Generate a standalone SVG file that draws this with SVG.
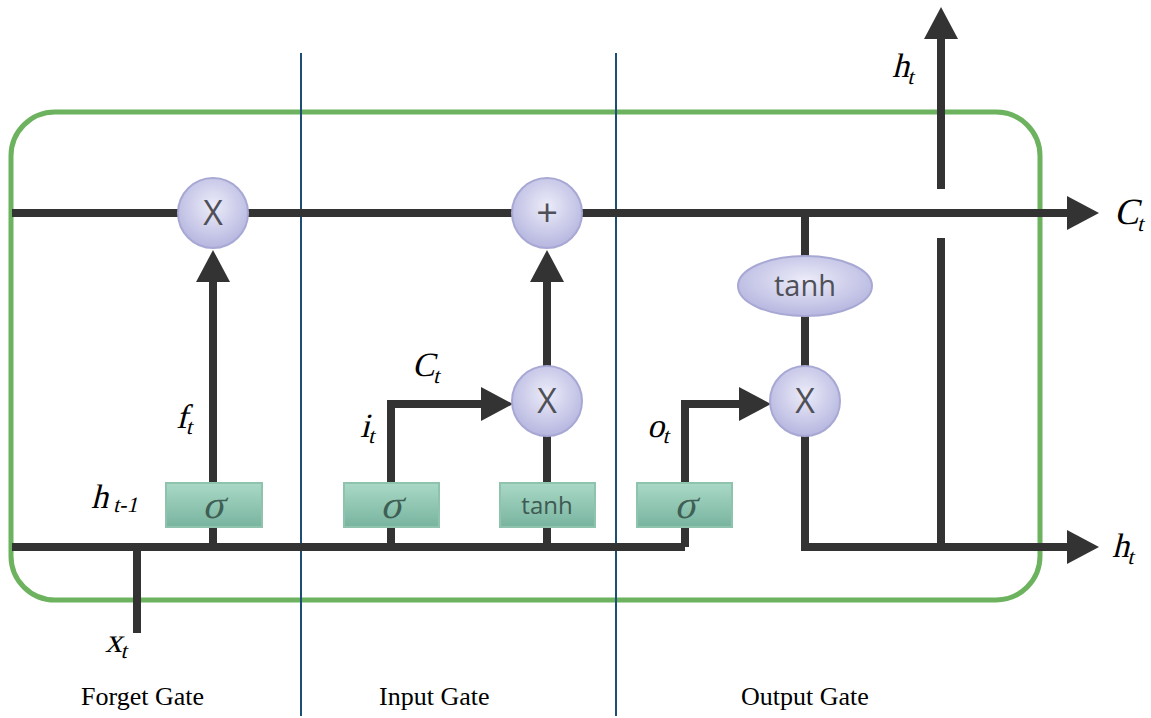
<svg xmlns="http://www.w3.org/2000/svg" width="1151" height="718" viewBox="0 0 1151 718">
<defs>
<radialGradient id="gCirc" cx="50%" cy="40%" r="60%">
<stop offset="0" stop-color="#ececf9"/>
<stop offset="1" stop-color="#b6b6e0"/>
</radialGradient>
<linearGradient id="gBox" x1="0" y1="0" x2="0" y2="1">
<stop offset="0" stop-color="#a9d9c7"/>
<stop offset="1" stop-color="#78b49f"/>
</linearGradient>
<marker id="arr" viewBox="0 0 32 34" refX="1" refY="17" markerWidth="32" markerHeight="34" markerUnits="userSpaceOnUse" orient="auto">
<path d="M0,0 L32,17 L0,34 z" fill="#333333"/>
</marker>
<style>
.ln{fill:none;stroke:#333333;stroke-width:8;stroke-linejoin:miter}
.ar{marker-end:url(#arr)}
.circ{fill:url(#gCirc);stroke:#a8a8d4;stroke-width:2}
.box{fill:url(#gBox);stroke:#8fc3ad;stroke-width:2}
.op{font-family:"Open Sans","DejaVu Sans",sans-serif;font-size:34px;fill:#505058;text-anchor:middle}
.sig{font-family:"Liberation Serif","DejaVu Serif",serif;font-size:40px;fill:#3f5f54;text-anchor:middle}
.bt{font-family:"Open Sans","DejaVu Sans",sans-serif;font-size:24px;fill:#3f5a52;text-anchor:middle}
.lb{font-family:"Liberation Serif","DejaVu Serif",serif;font-size:34px;fill:#000}
.sb{font-size:22px}
.gt{font-family:"Liberation Serif",serif;font-size:26px;fill:#000}
.div{stroke:#1d4f74;stroke-width:2}
</style>
</defs>
<rect id="cell" x="11" y="112" width="1029" height="488" rx="44" fill="none" stroke="#6db35f" stroke-width="5"/>
<g id="dividers">
<line class="div" x1="301" y1="53" x2="301" y2="716"/>
<line class="div" x1="616" y1="53" x2="616" y2="716"/>
</g>
<g id="connectors">
<line class="ln ar" x1="12" y1="213" x2="1068" y2="213"/>
<polyline class="ln" points="12,547 685,547"/>
<line class="ln" x1="137" y1="547" x2="137" y2="633"/>
<line class="ln ar" x1="213" y1="547" x2="213" y2="281"/>
<polyline class="ln ar" points="391,547 391,404 482,404"/>
<line class="ln" x1="547" y1="547" x2="547" y2="420"/>
<line class="ln ar" x1="547" y1="380" x2="547" y2="281"/>
<polyline class="ln ar" points="685,547 685,404 740,404"/>
<line class="ln" x1="805" y1="213" x2="805" y2="370"/>
<polyline class="ln ar" points="805,420 805,547 1068,547"/>
<line class="ln" x1="941" y1="547" x2="941" y2="238"/>
<line class="ln ar" x1="941" y1="189" x2="941" y2="38"/>
</g>
<g id="mult_forget"><circle class="circ" cx="213" cy="213" r="35"/><text class="op" x="213" y="225">X</text></g>
<g id="add_cell"><circle class="circ" cx="547" cy="213" r="35"/><text class="op" x="547" y="226" style="font-size:38px">+</text></g>
<g id="mult_input"><circle class="circ" cx="547" cy="401" r="35"/><text class="op" x="547" y="413">X</text></g>
<g id="mult_output"><circle class="circ" cx="805" cy="401" r="35"/><text class="op" x="805" y="413">X</text></g>
<g id="tanh_cell"><ellipse class="circ" cx="805" cy="286" rx="67" ry="30"/><text class="op" x="805" y="296" style="font-size:29px">tanh</text></g>
<g id="sigma_forget"><rect class="box" x="166" y="483" width="96" height="44"/><text class="sig" transform="translate(213,518) skewX(-14)">σ</text></g>
<g id="sigma_input"><rect class="box" x="344" y="483" width="95" height="44"/><text class="sig" transform="translate(391,518) skewX(-14)">σ</text></g>
<g id="tanh_input"><rect class="box" x="500" y="483" width="95" height="44"/><text class="bt" x="547" y="514">tanh</text></g>
<g id="sigma_output"><rect class="box" x="637" y="483" width="95" height="44"/><text class="sig" transform="translate(685,518) skewX(-14)">σ</text></g>
<g id="labels">
<text class="lb" transform="translate(892,77) skewX(-14)">h<tspan class="sb" dy="7">t</tspan></text>
<text class="lb" transform="translate(1114,224) skewX(-14)" style="font-size:37px">C<tspan class="sb" dy="7">t</tspan></text>
<text class="lb" transform="translate(1112,557) skewX(-14)">h<tspan class="sb" dy="7">t</tspan></text>
<text class="lb" transform="translate(176,428) skewX(-14)">f<tspan class="sb" dy="6">t</tspan></text>
<text class="lb" transform="translate(91,508) skewX(-14)">h<tspan class="sb" dx="6" dy="4">t-1</tspan></text>
<text class="lb" transform="translate(360,437) skewX(-14)">i<tspan class="sb" dy="6">t</tspan></text>
<text class="lb" transform="translate(412,376) skewX(-14)">C<tspan class="sb" dy="7">t</tspan></text>
<text class="lb" transform="translate(647,437) skewX(-14)">o<tspan class="sb" dy="6">t</tspan></text>
<text class="lb" transform="translate(105,652) skewX(-14)">x<tspan class="sb" dy="6">t</tspan></text>
</g>
<g id="gate_titles">
<text class="gt" x="81" y="705">Forget Gate</text>
<text class="gt" x="379" y="705">Input Gate</text>
<text class="gt" x="741" y="705">Output Gate</text>
</g>
</svg>
